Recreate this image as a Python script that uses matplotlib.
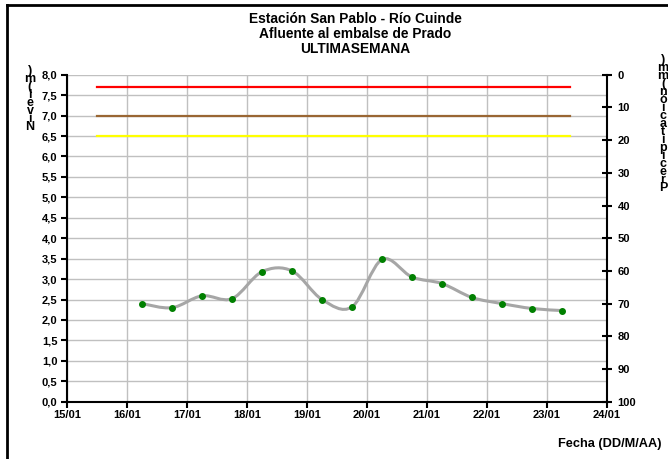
import numpy as np
import pandas as pd
import matplotlib
matplotlib.use('Agg')
import matplotlib.pyplot as plt
import matplotlib.dates as mdates
from matplotlib.path import Path
from matplotlib.patches import PathPatch
from matplotlib.lines import Line2D

plt.rcParams['font.family'] = ['Liberation Sans', 'DejaVu Sans']
plt.rcParams['font.weight'] = 'bold'

# ---------------------------------------------------------------------------
# Data
# ---------------------------------------------------------------------------
times = ['2020-01-16 06:00', '2020-01-16 18:00', '2020-01-17 06:00', '2020-01-17 18:00',
         '2020-01-18 06:00', '2020-01-18 18:00', '2020-01-19 06:00', '2020-01-19 18:00',
         '2020-01-20 06:00', '2020-01-20 18:00', '2020-01-21 06:00', '2020-01-21 18:00',
         '2020-01-22 06:00', '2020-01-22 18:00', '2020-01-23 06:00']
nivel = [2.40, 2.30, 2.59, 2.52, 3.18, 3.20, 2.50, 2.32,
         3.48, 3.05, 2.89, 2.55, 2.40, 2.28, 2.23]

# alert levels (red / orange-brown / yellow)
alert_levels = [7.7, 7.0, 6.5]
alert_colors = ['#ff0000', '#996633', '#ffff00']
alert_span = ['2020-01-15 12:00', '2020-01-23 09:00']

x_ticks = pd.date_range('2020-01-15', '2020-01-24', freq='D')
y_ticks = np.arange(0, 8.01, 0.5)
precip_ticks = np.arange(0, 101, 10)

title = 'Estación San Pablo - Río Cuinde\nAfluente al embalse de Prado\nULTIMASEMANA'

# ---------------------------------------------------------------------------
# Figure
# ---------------------------------------------------------------------------
fig = plt.figure(figsize=(6.68, 4.59), dpi=100)
ax = fig.add_axes([67 / 668, 1 - 401.7 / 459, 540 / 668, 327 / 459])

xd = mdates.date2num(pd.to_datetime(times))
yd = np.array(nivel)

# smoothed line (Excel style bezier through the points)
verts = [(xd[0], yd[0])]
codes = [Path.MOVETO]
n = len(xd)
for i in range(n - 1):
    p0 = np.array([xd[max(i - 1, 0)], yd[max(i - 1, 0)]])
    p1 = np.array([xd[i], yd[i]])
    p2 = np.array([xd[i + 1], yd[i + 1]])
    p3 = np.array([xd[min(i + 2, n - 1)], yd[min(i + 2, n - 1)]])
    c1 = p1 + (p2 - p0) / 6
    c2 = p2 - (p3 - p1) / 6
    verts += [tuple(c1), tuple(c2), tuple(p2)]
    codes += [Path.CURVE4] * 3
ax.add_patch(PathPatch(Path(verts, codes), facecolor='none', edgecolor='#a6a6a6',
                       lw=2.2, zorder=3, capstyle='round'))
ax.plot(xd, yd, ls='none', marker='o', ms=4, color='#008000', zorder=4)

span = mdates.date2num(pd.to_datetime(alert_span))
for lvl, col in zip(alert_levels, alert_colors):
    ax.plot(span, [lvl, lvl], color=col, lw=1.6, zorder=2)

ax.set_xlim(mdates.date2num(x_ticks[0]), mdates.date2num(x_ticks[-1]))
ax.set_ylim(0, 8)
ax.set_xticks(mdates.date2num(x_ticks))
ax.set_xticklabels([d.strftime('%d/%m') for d in x_ticks])
ax.set_yticks(y_ticks)
ax.set_yticklabels([f'{v:.1f}'.replace('.', ',') for v in y_ticks])
ax.grid(True, color='#c0c0c0', lw=1.0, zorder=0)
ax.set_axisbelow(True)

for s in ['left', 'bottom']:
    ax.spines[s].set_linewidth(1.5)
ax.spines['top'].set_visible(False)
ax.spines['right'].set_visible(False)
ax.tick_params(axis='y', direction='out', length=4, width=1.5, pad=3, labelsize=8)
ax.tick_params(axis='x', direction='out', length=4, width=1.5, pad=2, labelsize=8)

# secondary axis: precipitation (inverted)
ax2 = ax.twinx()
ax2.set_ylim(100, 0)
ax2.set_yticks(precip_ticks)
ax2.set_yticklabels([str(v) for v in precip_ticks])
ax2.spines['right'].set_linewidth(1.5)
for s in ['left', 'top', 'bottom']:
    ax2.spines[s].set_visible(False)
ax2.tick_params(axis='y', direction='inout', length=7, width=1.5, pad=4, labelsize=8)

# titles and labels
fig.text(355 / 668, 1 - 34 / 459, title, ha='center', va='center',
         fontsize=9.9, fontweight='bold', linespacing=1.12)
fig.text(662 / 668, 1 - 444 / 459, 'Fecha (DD/M/AA)', ha='right', va='center',
         fontsize=9.2, fontweight='bold')

# stacked vertical axis labels
fig.text(30 / 668, 1 - 99 / 459, '\n'.join(reversed('Nivel(m)')), ha='center', va='center',
         fontsize=9, fontweight='bold', linespacing=0.55)
fig.text(663 / 668, 1 - 124 / 459, '\n'.join(reversed('Precipitación(mm)')), ha='center',
         va='center', fontsize=9, fontweight='bold', linespacing=0.55)

# outer frame (only top/left visible)
fig.add_artist(Line2D([7 / 668, 7 / 668], [0, 1 - 5 / 459], color='black', lw=2,
                      transform=fig.transFigure))
fig.add_artist(Line2D([7 / 668, 1], [1 - 5 / 459, 1 - 5 / 459], color='black', lw=2,
                      transform=fig.transFigure))

fig.savefig('out.png', dpi=100)
